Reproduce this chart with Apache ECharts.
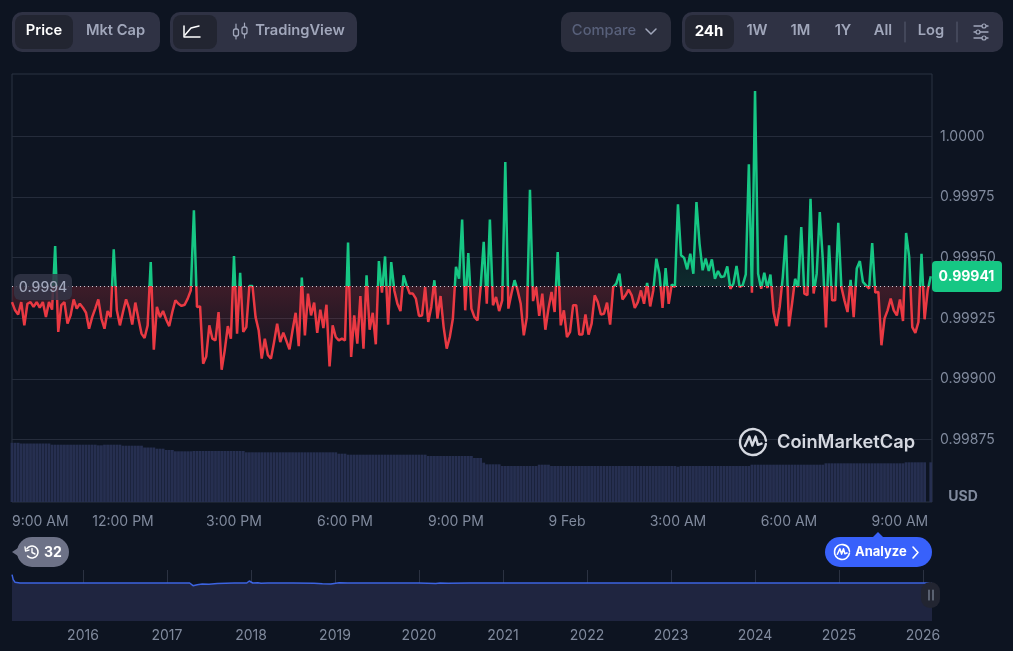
<!DOCTYPE html>
<html><head><meta charset="utf-8">
<style>html,body{margin:0;padding:0;background:#0d1421}#c{width:1013px;height:651px}</style>
<script src="https://cdn.jsdelivr.net/npm/echarts@6/dist/echarts.min.js"></script>
</head><body><div id="c"></div>
<script>
// 5-minute prices, starting 8 Feb 9:00 AM
const prices=[
.999317,.999283,.999266,.999317,.999221,.999310,.999317,.999297,.999317,.999294,.999317,.999255,.999317,.999286,.999548,.999194,.999304,.999317,.999228,.999262,
.999328,.999290,.999310,.999294,.999273,.999207,.999255,.999290,.999328,.999249,.999207,.999280,.999255,.999534,.999283,.999221,.999276,.999328,.999290,.999224,
.999315,.999249,.999187,.999169,.999221,.999482,.999121,.999297,.999255,.999280,.999245,.999218,.999276,.999324,.999310,.999301,.999306,.999331,.999365,.999695,
.999297,.999299,.999063,.999093,.999221,.999166,.999159,.999276,.999038,.999118,.999218,.999166,.999507,.999187,.999438,.999194,.999214,.999383,.999383,.999255,
.999201,.999084,.999166,.999098,.999084,.999152,.999228,.999152,.999191,.999157,.999122,.999201,.999273,.999135,.999418,.999180,.999352,.999262,.999315,.999190,
.999286,.999210,.999306,.999052,.999221,.999173,.999159,.999166,.999159,.999562,.999091,.999262,.999146,.999342,.999125,.999427,.999203,.999273,.999143,.999486,
.999356,.999505,.999224,.999482,.999365,.999310,.999280,.999427,.999386,.999352,.999352,.999331,.999260,.999262,.999379,.999235,.999297,.999407,.999249,.999342,
.999214,.999125,.999173,.999249,.999462,.999413,.999657,.999283,.999519,.999290,.999255,.999242,.999379,.999565,.999310,.999657,.999304,.999338,.999280,.999324,
.999894,.999290,.999352,.999407,.999365,.999310,.999180,.999255,.999780,.999321,.999379,.999260,.999352,.999203,.999290,.999359,.999276,.999523,.999221,.999283,
.999173,.999194,.999304,.999304,.999183,.999183,.999266,.999183,.999228,.999345,.999317,.999266,.999269,.999315,.999224,.999379,.999393,.999434,.999328,.999345,
.999368,.999345,.999293,.999317,.999365,.999310,.999396,.999299,.999365,.999496,.999434,.999293,.999457,.999310,.999390,.999379,.999720,.999510,.999499,.999452,
.999516,.999434,.999729,.999558,.999448,.999496,.999445,.999493,.999413,.999445,.999420,.999423,.999464,.999372,.999393,.999466,.999379,.999386,.999431,.999885,
.999356,1.000187,.999434,.999372,.999438,.999375,.999430,.999276,.999218,.999297,.999420,.999592,.999217,.999310,.999413,.999379,.999626,.999352,.999345,.999743,
.999352,.999434,.999688,.999489,.999212,.999551,.999324,.999324,.999644,.999379,.999324,.999276,.999409,.999255,.999455,.999486,.999400,.999386,.999372,.999560,
.999356,.999359,.999139,.999249,.999283,.999331,.999283,.999262,.999328,.999239,.999602,.999503,.999214,.999190,.999235,.999516,.999246,.999365,.999423];
const volumes=[
59.2,59.2,59.2,58.5,58.5,58.5,58.5,58.5,58.5,58.5,58.5,58.5,58.5,57.3,57.3,57.3,57.3,57.3,57.3,57.3,57.3,57.3,57.3,57.3,57.3,57.3,57.3,57.3,56.7,56.7,
57.3,57.3,57.3,57.3,57.3,57.3,56.3,56.3,56.3,56.3,56.3,56.3,56.3,54.5,54.5,54.5,54.5,53.3,53.3,53.3,52,52,52,50.7,50.7,50.7,50.7,50.7,50.7,
51,51,51,51,51,51,51,51,51,51,51,51,51,51,51,51,51,
49.7,49.7,49.7,49.7,49.7,49.7,49.7,49.7,49.7,49.7,49.7,49.7,49.7,49.7,49.7,49.7,49.7,49.7,49.7,49.7,49.7,49.7,49.7,49.7,49.7,49.7,49.7,49.7,49.7,49.7,
48.3,48.3,48.3,
47.3,47.3,47.3,47.3,47.3,47.3,47.3,47.3,47.3,47.3,47.3,47.3,47.3,47.3,47.3,47.3,47.3,47.3,47.3,47.3,47.3,47.3,47.3,47.3,47.3,47.3,
46,46,46,46,46,46,46,46,46,46,46,46,46,46,46,44,44,44,39.3,37.7,37.7,37.7,37.7,37.7,
36,36,36,36,36,36,36,36,36,36,36,36,37.3,37.3,37.3,37.3,
36,36,36,36,36,36,36,36,36,36,36,36,36,36,36,36,36,36,36,36,36,36,36,36,36,36,36,36,36,36,36,36,36,36,36,36,36,36,36,36,36,35.3,
36,36,36,36,36,36,36,36,36,36,36,36,36,36,36,36,36,36,36,36,36,36,36,
37.3,37.3,37.3,37.3,37.3,37.3,37.3,37.3,37.3,37.3,37.3,37.3,37.3,37.3,37.3,37.3,37.3,37.3,37.3,37.3,37.3,37.3,37.3,37.3,
38.7,38.7,38.7,38.7,38.7,38.7,38.7,38.7,38.7,38.7,38.7,38.7,38.7,38.7,38.7,38.7,38.7,38.7,38.7,38.7,38.7,38.7,38.7,38.7,38.7,38.7,
39.7,39.7,39.7,39.7,39.7,39.7,39.7,null,39.7];
const baseline=0.999382;
const priceTicks=[0.99875,0.999,0.99925,0.9995,0.99975,1];
const priceLabels=['0.99875','0.99900','0.99925','0.99950','0.99975','1.0000'];
const timeTicks=[0,180,360,540,720,900,1080,1260,1440];
const timeLabels=['9:00 AM','12:00 PM','3:00 PM','6:00 PM','9:00 PM','9 Feb','3:00 AM','6:00 AM','9:00 AM'];
const historyYears=[2015.155,2015.17,2015.19,2015.25,2016,2017,2017.27,2017.31,2017.36,2017.42,2017.5,2017.6,2017.8,2017.95,2017.98,2018.02,2018.08,2018.12,2018.2,2018.5,2018.75,2018.85,2018.95,2019.05,2019.15,2019.5,2020,2020.2,2020.25,2020.35,2020.6,2021,2022,2023,2024,2025,2026.107];
const historyPrices=[1.05,1.02,1.005,1.0,1.0,1.0,1.0,0.984,0.99,0.994,0.992,0.997,1.0,1.0,1.012,1.0,1.002,0.998,1.0,1.0,0.999,0.995,0.994,1.002,1.0,1.0,1.0,0.997,1.0,0.999,1.0,1.0,1.0,1.0,1.0,1.0,1.0];
const yearTicks=[2016,2017,2018,2019,2020,2021,2022,2023,2024,2025,2026];

const FONT='Inter';
const GREY='#808a9d', SOFT='#a1a7bb', PANEL='#2f3244', PILL='#222531';
const txt=(x,y,t,o={})=>({type:'text',x,y,z:50,silent:true,style:Object.assign({text:t,fill:SOFT,font:`600 14.7px ${FONT}`,align:'center',verticalAlign:'middle'},o)});
const rect=(x,y,w,h,r,fill,z=40)=>({type:'rect',z,silent:true,shape:{x,y,width:w,height:h,r},style:{fill}});
const poly=(pts,stroke,w=1.5,o={})=>({type:'polyline',z:50,silent:true,shape:Object.assign({points:pts},o),style:{stroke,lineWidth:w,fill:null,lineCap:'round',lineJoin:'round'}});
const arc=(cx,cy,r,a,b,stroke,w=1.5)=>({type:'arc',z:50,silent:true,shape:{cx,cy,r,startAngle:a,endAngle:b},style:{stroke,lineWidth:w,fill:null,lineCap:'round'}});
const tri=(pts,fill)=>({type:'polygon',z:40,silent:true,shape:{points:pts},style:{fill}});
const logo=(cx,cy,r,c,w)=>[arc(cx,cy,r,0.15,Math.PI*2-0.1,c,w),
  poly([[cx-r*.62,cy+r*.3],[cx-r*.28,cy-r*.42],[cx-r*.05,cy+r*.28],[cx+r*.2,cy-r*.42],[cx+r*.38,cy+r*.22],[cx+r*.66,cy+r*.12]],c,w)];

const graphics=[
 rect(12,12,148,40,10,PANEL),rect(15,15,58,34,8,PILL,41),
 txt(44,31,'Price',{fill:'#fff'}),txt(115.5,31,'Mkt Cap'),
 rect(170,12,187,40,10,PANEL),rect(173,15,44,34,8,PILL,41),
 poly([[184,26],[184,37],[200,37]],'#fff',1.5),poly([[185,35],[191,28],[199,26]],'#fff',1.5),
 poly([[236,24],[236,39]],SOFT,1.2),{type:'rect',z:51,silent:true,shape:{x:233.5,y:29,width:5,height:7,r:2},style:{stroke:SOFT,fill:PANEL,lineWidth:1.3}},
 poly([[244.5,23],[244.5,38]],SOFT,1.2),{type:'rect',z:51,silent:true,shape:{x:242,y:27,width:5,height:7,r:2},style:{stroke:SOFT,fill:PANEL,lineWidth:1.3}},
 txt(300,31,'TradingView'),
 rect(561,12,110,40,10,'#2b2e3d'),txt(604,31,'Compare',{fill:'#58607a',font:`500 14.7px ${FONT}`}),
 poly([[646,29],[651,34],[656,29]],SOFT,1.5),
 rect(682,12,321,40,10,PANEL),rect(685,15,49,34,8,PILL,41),
 txt(709,31,'24h',{fill:'#fff',font:`700 15px ${FONT}`}),txt(757,31,'1W'),txt(800.5,31,'1M'),txt(843,31,'1Y'),txt(883,31,'All'),txt(931,31,'Log'),
 poly([[905,22],[905,42]],'#585c70',1),poly([[957,22],[957,42]],'#585c70',1),
 poly([[974,26],[988,26]],SOFT,1.3),poly([[974,32],[988,32]],SOFT,1.3),poly([[974,38],[988,38]],SOFT,1.3),
 {type:'circle',z:51,silent:true,shape:{cx:984,cy:26,r:2},style:{fill:PANEL,stroke:SOFT,lineWidth:1.2}},
 {type:'circle',z:51,silent:true,shape:{cx:978,cy:32,r:2},style:{fill:PANEL,stroke:SOFT,lineWidth:1.2}},
 {type:'circle',z:51,silent:true,shape:{cx:984,cy:38,r:2},style:{fill:PANEL,stroke:SOFT,lineWidth:1.2}},
 rect(14,274,58,26,6,'rgba(50,53,70,0.85)'),txt(43,288,'0.9994',{font:`500 14px ${FONT}`}),
 rect(932,261,70,31,4,'#16c784'),txt(966.5,277,'0.99941',{fill:'#fff',font:`700 14px ${FONT}`}),
 txt(963,497,'USD',{fill:GREY,font:`700 14px ${FONT}`}),
 ...logo(753,442,13,'#d5d8e0',2.4),
 txt(777,443,'CoinMarketCap',{fill:'#d5d8e0',font:`600 18.3px ${FONT}`,align:'left'}),
 tri([[12,552],[24,544],[24,560]],'#6d7287'),rect(17,537,52,30,15,'#6d7287'),
 arc(32,552,6,-2.6,2.4,'#fff',1.6),poly([[32,548.5],[32,552.5],[35,554]],'#fff',1.4),poly([[25,547],[25.5,551],[29,550]],'#fff',1.3),
 txt(53,552.5,'32',{fill:'#fff',font:`700 14px ${FONT}`}),
 tri([[872,538],[878,532],[884,538]],'#3861fb'),rect(825,537,107,30,15,'#3861fb'),
 ...logo(842,552,7.5,'#fff',1.6),
 txt(855,552.5,'Analyze',{fill:'#fff',font:`700 13px ${FONT}`,align:'left'}),
 poly([[913,547],[918,552.5],[913,558]],'#fff',1.6),
 rect(921,582,19,26,9,PILL),poly([[929,590],[929,600]],GREY,1.2),poly([[933,590],[933,600]],GREY,1.2)
];

const chart=echarts.init(document.getElementById('c'),null,{renderer:'canvas'});
const fade=(c,a)=>`rgba(${c},${a})`;
chart.setOption({
 animation:false,backgroundColor:'#0d1421',
 textStyle:{fontFamily:FONT},
 graphic:graphics,
 grid:[
  {left:12,right:81,top:74,height:428,show:true,borderColor:'#2b3242',borderWidth:1,backgroundColor:'transparent'},
  {left:12,right:81,top:570,height:51,show:false}
 ],
 xAxis:[
  {type:'value',gridIndex:0,min:0,max:1492,
   axisLine:{show:false},axisTick:{show:false,customValues:timeTicks},splitLine:{show:false},
   axisLabel:{customValues:timeTicks,alignMinLabel:'left',hideOverlap:false,margin:13,color:GREY,fontSize:14,fontFamily:FONT,
     formatter:v=>timeLabels[timeTicks.indexOf(v)]}},
  {type:'value',gridIndex:1,min:2015.155,max:2026.107,
   axisLine:{show:false},axisTick:{show:false,customValues:yearTicks},
   splitLine:{show:true,lineStyle:{color:'#2b3242',width:1}},
   axisLabel:{customValues:yearTicks,hideOverlap:false,margin:8,color:GREY,fontSize:14,fontFamily:FONT,formatter:v=>String(Math.round(v))}}
 ],
 yAxis:[
  {type:'value',gridIndex:0,position:'right',min:0.998493,max:1.000257,
   axisLine:{show:false},axisTick:{show:false,customValues:priceTicks},
   splitLine:{show:true,lineStyle:{color:'#252c3b',width:1}},
   axisLabel:{customValues:priceTicks,hideOverlap:false,margin:8,color:GREY,fontSize:14,fontFamily:FONT,
     formatter:v=>priceLabels[priceTicks.findIndex(t=>Math.abs(t-v)<1e-7)]}},
  {type:'value',gridIndex:0,min:0,max:428,show:false,splitLine:{show:false}},
  {type:'value',gridIndex:1,min:0.772,max:1.078,show:false,splitLine:{show:false}}
 ],
 series:[
  {type:'bar',xAxisIndex:0,yAxisIndex:1,barWidth:2.8,z:1,silent:true,
   itemStyle:{color:'#262f50'},data:volumes.map((v,i)=>[i*5,v])},
  {type:'line',xAxisIndex:0,yAxisIndex:0,z:3,showSymbol:false,symbol:'none',silent:true,
   lineStyle:{width:2.5,join:'bevel',color:{type:'linear',global:true,x:0,y:74,x2:0,y2:502,colorStops:[
     {offset:0,color:'#16c784'},{offset:0.495,color:'#16c784'},{offset:0.495,color:'#ea3943'},{offset:1,color:'#ea3943'}]}},
   areaStyle:{origin:baseline,opacity:1,color:{type:'linear',global:true,x:0,y:90,x2:0,y2:372,colorStops:[
     {offset:0,color:fade('22,199,132',0)},{offset:0.45,color:fade('22,199,132',0)},{offset:0.695,color:fade('22,199,132',0.13)},
     {offset:0.695,color:fade('234,57,67',0.22)},{offset:0.82,color:fade('234,57,67',0.12)},{offset:1,color:fade('234,57,67',0)}]}},
   markLine:{silent:true,symbol:'none',precision:6,animation:false,label:{show:false},
     lineStyle:{color:'#c8ccd6',type:[1,3],width:1},data:[{yAxis:baseline}]},
   data:prices.map((p,i)=>[i*5,p])},
  {type:'line',xAxisIndex:1,yAxisIndex:2,z:3,showSymbol:false,symbol:'none',silent:true,
   lineStyle:{width:1.5,color:'#3c63e0'},
   areaStyle:{opacity:1,color:'#1f2540'},
   data:historyYears.map((y,i)=>[y,historyPrices[i]])}
 ]
});
</script></body></html>
